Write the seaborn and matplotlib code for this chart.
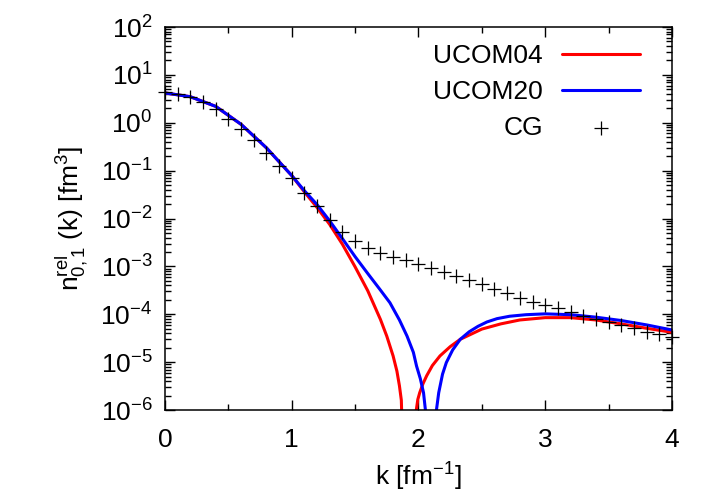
import numpy as np
import pandas as pd
import matplotlib.pyplot as plt
from matplotlib.ticker import LogLocator, MultipleLocator, NullFormatter
import seaborn as sns

sns.set_style('ticks')
plt.rcParams['font.family'] = ['Liberation Sans', 'DejaVu Sans']
plt.rcParams['mathtext.fontset'] = 'custom'
plt.rcParams['mathtext.rm'] = 'Liberation Sans'
plt.rcParams['mathtext.it'] = 'Liberation Sans'
plt.rcParams['mathtext.default'] = 'regular'
plt.rcParams['axes.unicode_minus'] = False
plt.rcParams['text.color'] = 'black'
plt.rcParams['axes.labelcolor'] = 'black'
plt.rcParams['xtick.color'] = 'black'
plt.rcParams['ytick.color'] = 'black'

# UCOM04, two branches (zero crossing near k=1.9)
k_ucom04_a = [0, 0.2, 0.4, 0.6, 0.8, 1.0, 1.1, 1.2, 1.3, 1.4, 1.5, 1.6, 1.7, 1.75, 1.8, 1.83, 1.85, 1.865, 1.878]
n_ucom04_a = [4.2, 3.5, 2.2, 0.93, 0.30, 7.9e-2, 3.6e-2, 1.7e-2, 7.5e-3, 2.9e-3, 9.8e-4, 3.1e-4, 7.8e-5,
              3.5e-5, 1.35e-5, 6.5e-6, 3.2e-6, 1.6e-6, 1e-7]
k_ucom04_b = [1.975, 1.983, 1.995, 2.01, 2.035, 2.065, 2.11, 2.17, 2.25, 2.33, 2.5, 2.65, 2.8, 3.0, 3.2, 3.4,
              3.6, 3.8, 4.0]
n_ucom04_b = [1e-7, 1.0e-6, 1.66e-6, 2.3e-6, 3.5e-6, 5.2e-6, 8.5e-6, 1.35e-5, 2.1e-5, 3.0e-5, 4.9e-5, 6.3e-5,
              7.6e-5, 8.5e-5, 8.5e-5, 7.6e-5, 6.3e-5, 5.1e-5, 4.2e-5]

# UCOM20, two branches (zero crossing near k=2.1)
k_ucom20_a = [0, 0.2, 0.4, 0.6, 0.8, 1.0, 1.1, 1.2, 1.3, 1.4, 1.5, 1.6, 1.7, 1.775, 1.85, 1.91, 1.96, 1.985,
              2.015, 2.04, 2.055, 2.062]
n_ucom20_a = [4.2, 3.5, 2.2, 0.93, 0.30, 7.9e-2, 3.8e-2, 1.95e-2, 8.9e-3, 3.8e-3, 1.6e-3, 7.1e-4, 3.2e-4,
              1.74e-4, 7.6e-5, 3.5e-5, 1.6e-5, 8.3e-6, 4.5e-6, 2.3e-6, 1.0e-6, 1e-7]
k_ucom20_b = [2.138, 2.142, 2.16, 2.19, 2.22, 2.27, 2.33, 2.40, 2.47, 2.54, 2.62, 2.72, 2.85, 3.0, 3.2, 3.4,
              3.6, 3.8, 4.0]
n_ucom20_b = [1e-7, 1.0e-6, 2.3e-6, 5.6e-6, 9.8e-6, 1.8e-5, 3.0e-5, 4.3e-5, 5.6e-5, 6.9e-5, 8.1e-5, 9.1e-5,
              9.8e-5, 1.02e-4, 9.8e-5, 8.7e-5, 7.4e-5, 6.0e-5, 4.7e-5]

# CG points
cg_k = [0.0, 0.1, 0.2, 0.3, 0.4, 0.5, 0.6, 0.7, 0.8, 0.9, 1.0, 1.1, 1.2, 1.3, 1.4, 1.5, 1.6, 1.7, 1.8, 1.9,
        2.0, 2.1, 2.2, 2.3, 2.4, 2.5, 2.6, 2.7, 2.8, 2.9, 3.0, 3.1, 3.2, 3.3, 3.4, 3.5, 3.6, 3.7, 3.8, 3.9, 4.0]
cg_n = [4.4, 4.0, 3.43, 2.70, 1.93, 1.19, 0.74, 0.44, 0.234, 0.127, 7.05e-2, 3.43e-2, 1.81e-2, 9.1e-3,
        5.2e-3, 3.37e-3, 2.37e-3, 1.93e-3, 1.58e-3, 1.33e-3, 1.12e-3, 9.2e-4, 7.8e-4, 6.3e-4, 5.2e-4,
        4.2e-4, 3.35e-4, 2.74e-4, 2.24e-4, 1.84e-4, 1.55e-4, 1.32e-4, 1.12e-4, 9.2e-5, 7.9e-5, 6.9e-5,
        5.9e-5, 5.1e-5, 4.3e-5, 3.8e-5, 3.4e-5]

parts = []
for model, branch, k, n in [('UCOM04', 'a', k_ucom04_a, n_ucom04_a), ('UCOM04', 'b', k_ucom04_b, n_ucom04_b),
                            ('UCOM20', 'a', k_ucom20_a, n_ucom20_a), ('UCOM20', 'b', k_ucom20_b, n_ucom20_b)]:
    parts.append(pd.DataFrame({'k': k, 'n': n, 'model': model, 'branch': branch}))
curves = pd.concat(parts, ignore_index=True)

fig = plt.figure(figsize=(7.06, 4.94), dpi=100)
ax = fig.add_axes([0.2337, 0.17, 0.718, 0.7753])

sns.lineplot(data=curves, x='k', y='n', hue='model', units='branch', estimator=None, sort=False,
             palette={'UCOM04': 'red', 'UCOM20': 'blue'}, linewidth=2.2, ax=ax)
sns.scatterplot(x=cg_k, y=cg_n, marker='+', s=90, color='black', linewidth=0.9, label='CG',
                clip_on=False, zorder=3, ax=ax)

ax.set_yscale('log')
ax.set_ylim(1e-6, 1e2)
ax.set_xlim(0, 4)
ax.yaxis.set_major_locator(LogLocator(base=10, numticks=20))
ax.yaxis.set_minor_locator(LogLocator(base=10, subs=np.arange(2, 10), numticks=20))
ax.yaxis.set_minor_formatter(NullFormatter())
ax.xaxis.set_major_locator(MultipleLocator(1))
ax.xaxis.set_minor_locator(MultipleLocator(0.5))

for s in ax.spines.values():
    s.set_linewidth(1.1)
    s.set_color('black')
ax.tick_params(which='both', direction='in', top=True, right=True, width=1, labelsize=19)
ax.tick_params(which='major', length=7)
ax.tick_params(which='minor', length=4)
ax.tick_params(axis='y', pad=9)
ax.tick_params(axis='x', pad=13)

ax.set_xlabel(r'k [fm$^{-1}$]', fontsize=19, labelpad=6)
ax.set_ylabel(r'$n^{rel}_{0,1}$ (k) [fm$^{3}$]', fontsize=19)
ax.yaxis.set_label_coords(-0.148, 0.5)

ax.legend(loc='upper right', bbox_to_anchor=(0.937, 0.956), frameon=False, markerfirst=False,
          handlelength=2.95, handletextpad=0.72, labelspacing=0.45, fontsize=19,
          borderaxespad=0, borderpad=0)

fig.savefig('out.png', dpi=100)
